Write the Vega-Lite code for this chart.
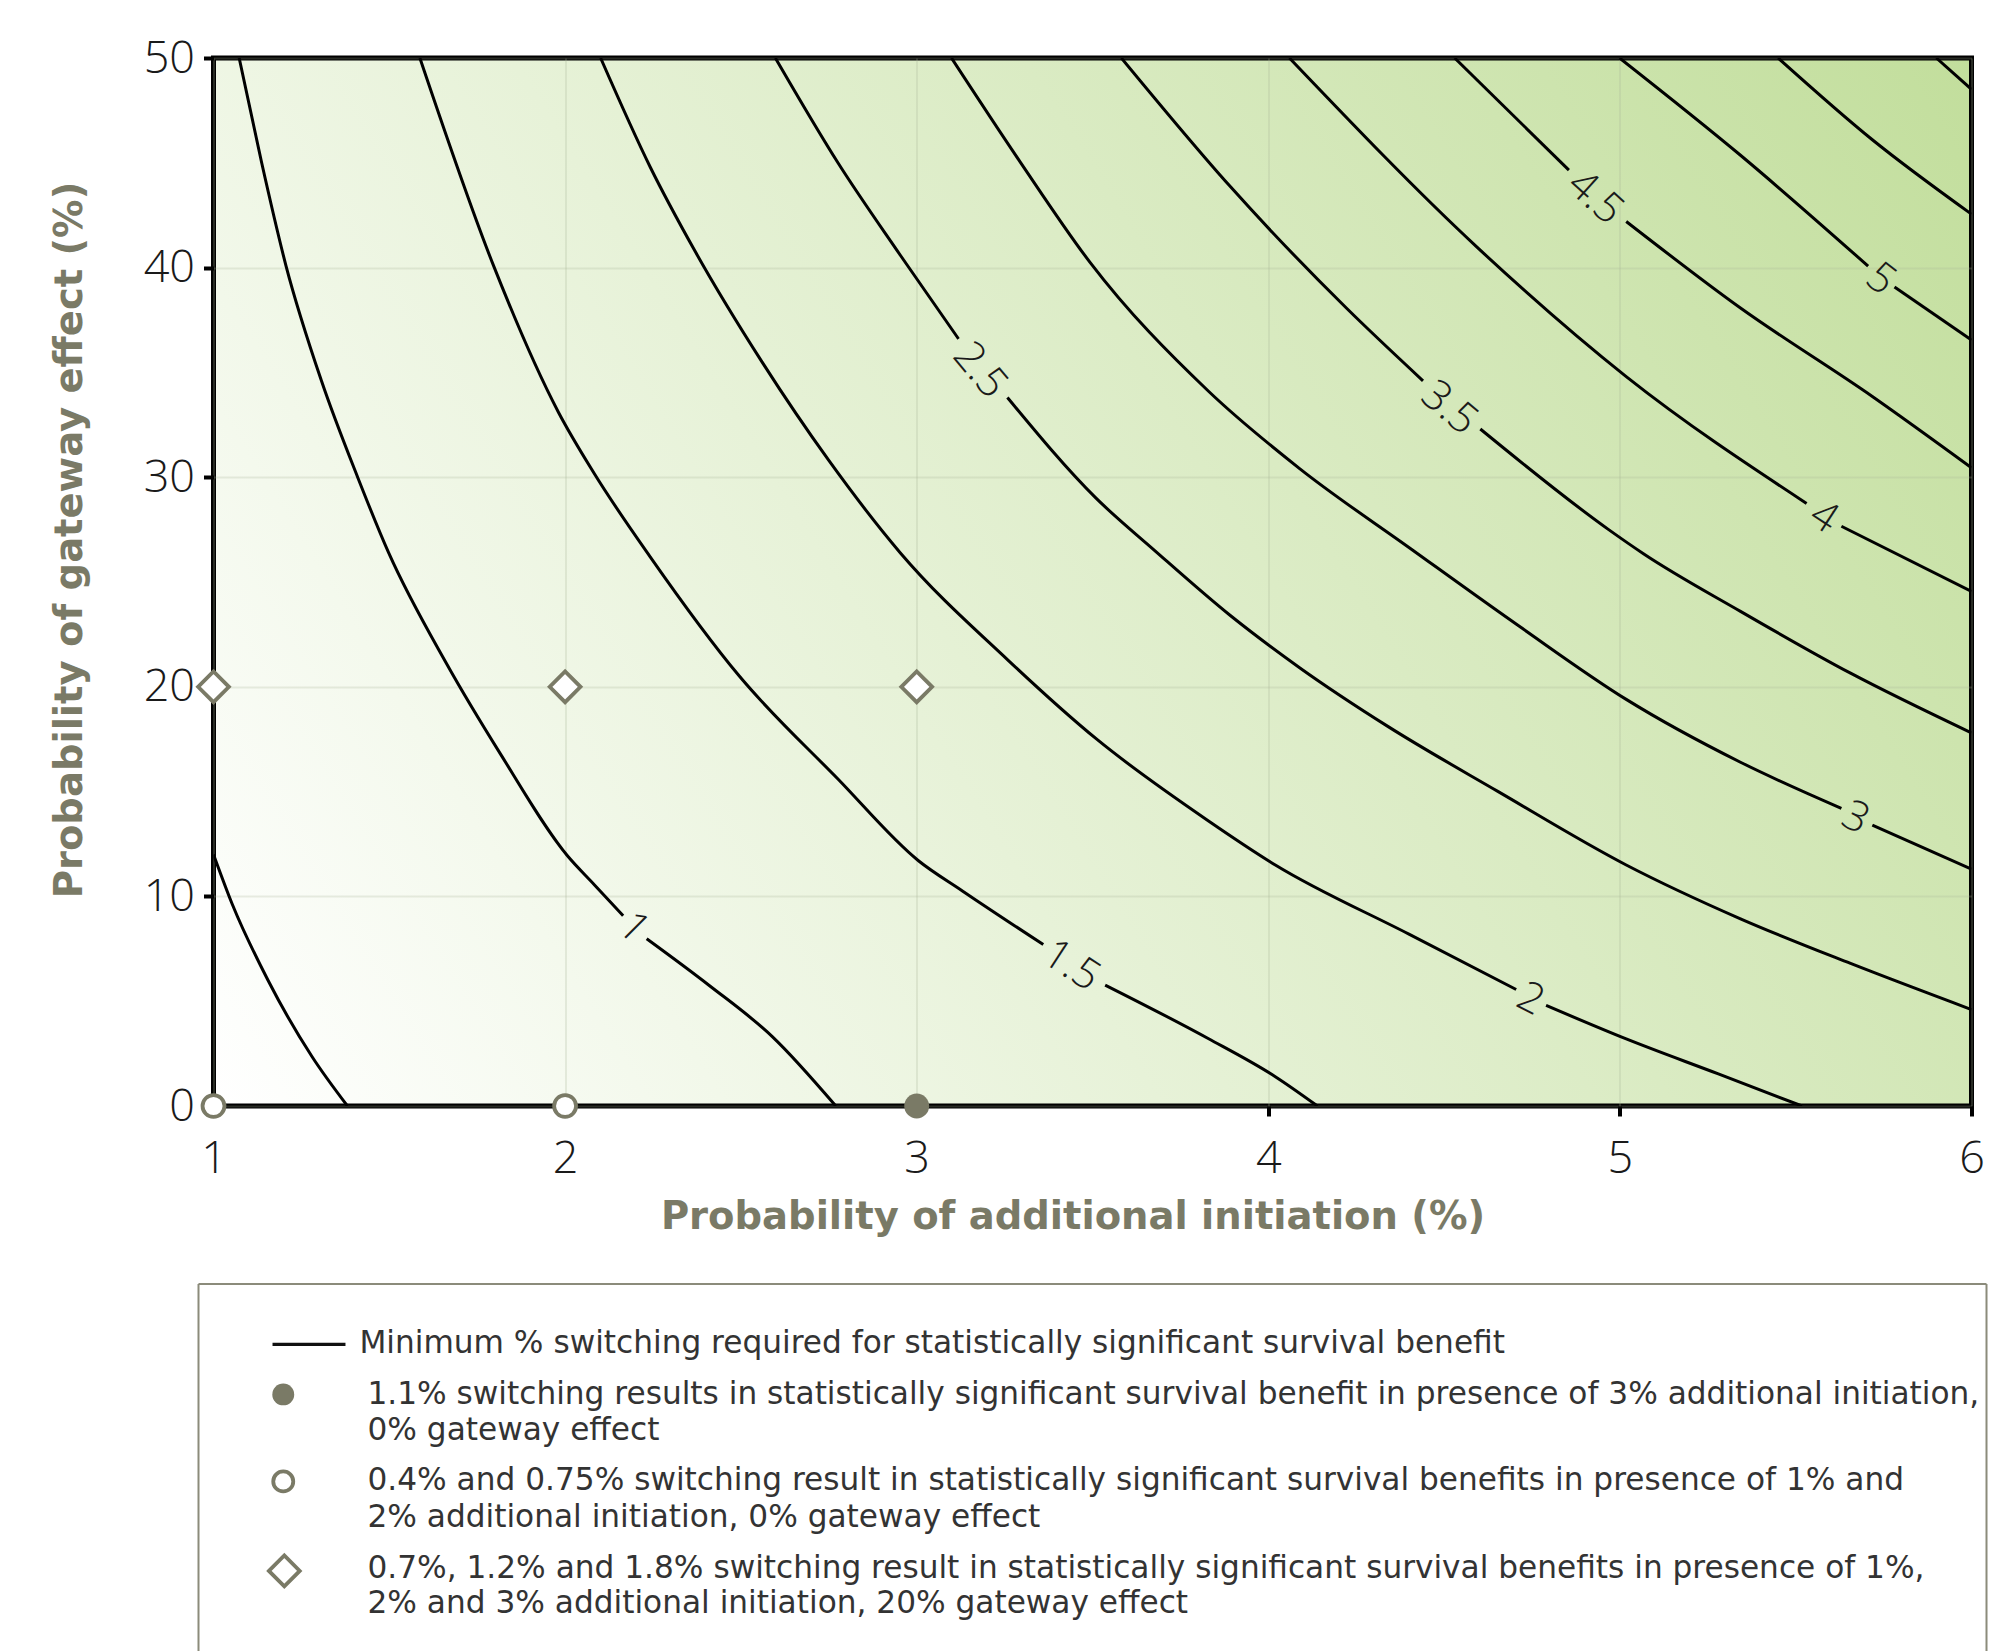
{
  "$schema": "https://vega.github.io/schema/vega-lite/v6.json",
  "padding": {"left": 47.5, "top": 33, "right": 0, "bottom": 0},
  "background": "#ffffff",
  "config": {"font": "DejaVu Sans"},
  "spacing": 178,
  "bounds": "flush",
  "center": true,
  "datasets": {
    "contours": [
      {"seg": "0.5", "x": 1.0, "y": 12.0}, {"seg": "0.5", "x": 1.054, "y": 9.6}, {"seg": "0.5", "x": 1.155, "y": 6.0}, {"seg": "0.5", "x": 1.28, "y": 2.36}, {"seg": "0.5", "x": 1.381, "y": 0},
      {"seg": "1a", "x": 1.073, "y": 50}, {"seg": "1a", "x": 1.137, "y": 45.0}, {"seg": "1a", "x": 1.206, "y": 40.1}, {"seg": "1a", "x": 1.307, "y": 34.6}, {"seg": "1a", "x": 1.41, "y": 30.0}, {"seg": "1a", "x": 1.498, "y": 26.4}, {"seg": "1a", "x": 1.663, "y": 21.1}, {"seg": "1a", "x": 1.816, "y": 16.8}, {"seg": "1a", "x": 2.006, "y": 11.95}, {"seg": "1a", "x": 2.083, "y": 10.56}, {"seg": "1a", "x": 2.165, "y": 9.08},
      {"seg": "1b", "x": 2.232, "y": 7.98}, {"seg": "1b", "x": 2.41, "y": 5.75}, {"seg": "1b", "x": 2.59, "y": 3.3}, {"seg": "1b", "x": 2.77, "y": 0},
      {"seg": "1.5a", "x": 1.587, "y": 50}, {"seg": "1.5a", "x": 1.797, "y": 40.07}, {"seg": "1.5a", "x": 1.981, "y": 33.1}, {"seg": "1.5a", "x": 2.082, "y": 30.2}, {"seg": "1.5a", "x": 2.242, "y": 26.2}, {"seg": "1.5a", "x": 2.496, "y": 20.5}, {"seg": "1.5a", "x": 2.776, "y": 15.6}, {"seg": "1.5a", "x": 3.005, "y": 11.7}, {"seg": "1.5a", "x": 3.13, "y": 10.26}, {"seg": "1.5a", "x": 3.36, "y": 7.7},
      {"seg": "1.5b", "x": 3.536, "y": 5.77}, {"seg": "1.5b", "x": 3.829, "y": 3.22}, {"seg": "1.5b", "x": 4.02, "y": 1.4}, {"seg": "1.5b", "x": 4.14, "y": 0},
      {"seg": "2a", "x": 2.101, "y": 50}, {"seg": "2a", "x": 2.242, "y": 44.8}, {"seg": "2a", "x": 2.369, "y": 40.8}, {"seg": "2a", "x": 2.56, "y": 35.5}, {"seg": "2a", "x": 2.75, "y": 30.8}, {"seg": "2a", "x": 2.953, "y": 26.4}, {"seg": "2a", "x": 3.258, "y": 21.3}, {"seg": "2a", "x": 3.512, "y": 17.5}, {"seg": "2a", "x": 3.83, "y": 13.6}, {"seg": "2a", "x": 4.02, "y": 11.5}, {"seg": "2a", "x": 4.4, "y": 8.2}, {"seg": "2a", "x": 4.705, "y": 5.56},
      {"seg": "2b", "x": 4.79, "y": 4.8}, {"seg": "2b", "x": 5.018, "y": 3.2}, {"seg": "2b", "x": 5.28, "y": 1.53}, {"seg": "2b", "x": 5.518, "y": 0},
      {"seg": "2.5a", "x": 2.598, "y": 50}, {"seg": "2.5a", "x": 2.776, "y": 45.0}, {"seg": "2.5a", "x": 2.953, "y": 40.6}, {"seg": "2.5a", "x": 3.119, "y": 36.6},
      {"seg": "2.5b", "x": 3.258, "y": 33.8}, {"seg": "2.5b", "x": 3.51, "y": 29.0}, {"seg": "2.5b", "x": 3.677, "y": 26.5}, {"seg": "2.5b", "x": 3.892, "y": 23.4}, {"seg": "2.5b", "x": 4.09, "y": 20.9}, {"seg": "2.5b", "x": 4.341, "y": 18.1}, {"seg": "2.5b", "x": 4.654, "y": 15.0}, {"seg": "2.5b", "x": 5.018, "y": 11.5}, {"seg": "2.5b", "x": 5.343, "y": 8.93}, {"seg": "2.5b", "x": 5.656, "y": 6.8}, {"seg": "2.5b", "x": 6.0, "y": 4.6},
      {"seg": "3a", "x": 3.099, "y": 50}, {"seg": "3a", "x": 3.296, "y": 45.0}, {"seg": "3a", "x": 3.493, "y": 40.25}, {"seg": "3a", "x": 3.83, "y": 34.1}, {"seg": "3a", "x": 4.09, "y": 30.4}, {"seg": "3a", "x": 4.404, "y": 26.6}, {"seg": "3a", "x": 4.717, "y": 22.85}, {"seg": "3a", "x": 5.018, "y": 19.4}, {"seg": "3a", "x": 5.343, "y": 16.4}, {"seg": "3a", "x": 5.63, "y": 14.2},
      {"seg": "3b", "x": 5.718, "y": 13.4}, {"seg": "3b", "x": 6.0, "y": 11.3},
      {"seg": "3.5a", "x": 3.582, "y": 50}, {"seg": "3.5a", "x": 3.89, "y": 43.9}, {"seg": "3.5a", "x": 4.222, "y": 38.07}, {"seg": "3.5a", "x": 4.44, "y": 34.6},
      {"seg": "3.5b", "x": 4.603, "y": 32.3}, {"seg": "3.5b", "x": 4.968, "y": 27.5}, {"seg": "3.5b", "x": 5.067, "y": 26.35}, {"seg": "3.5b", "x": 5.343, "y": 23.6}, {"seg": "3.5b", "x": 5.656, "y": 20.65}, {"seg": "3.5b", "x": 6.0, "y": 17.8},
      {"seg": "4a", "x": 4.06, "y": 50}, {"seg": "4a", "x": 4.592, "y": 41.0}, {"seg": "4a", "x": 5.018, "y": 34.8}, {"seg": "4a", "x": 5.531, "y": 28.75},
      {"seg": "4b", "x": 5.63, "y": 27.66}, {"seg": "4b", "x": 6.0, "y": 24.55},
      {"seg": "4.5a", "x": 4.53, "y": 50}, {"seg": "4.5a", "x": 4.855, "y": 44.65},
      {"seg": "4.5b", "x": 5.018, "y": 42.2}, {"seg": "4.5b", "x": 5.343, "y": 38.07}, {"seg": "4.5b", "x": 5.718, "y": 33.85}, {"seg": "4.5b", "x": 6.0, "y": 30.45},
      {"seg": "5a", "x": 4.999, "y": 50}, {"seg": "5a", "x": 5.343, "y": 45.36}, {"seg": "5a", "x": 5.706, "y": 40.07},
      {"seg": "5b", "x": 5.781, "y": 39.07}, {"seg": "5b", "x": 6.0, "y": 36.55},
      {"seg": "5.5", "x": 5.45, "y": 50}, {"seg": "5.5", "x": 5.718, "y": 46.1}, {"seg": "5.5", "x": 6.0, "y": 42.55},
      {"seg": "6", "x": 5.9, "y": 50}, {"seg": "6", "x": 6.0, "y": 48.5}
    ],
    "markers": [
      {"kind": "filled", "x": 3, "y": 0},
      {"kind": "open", "x": 1, "y": 0},
      {"kind": "open", "x": 2, "y": 0},
      {"kind": "diamond", "x": 1, "y": 20},
      {"kind": "diamond", "x": 2, "y": 20},
      {"kind": "diamond", "x": 3, "y": 20}
    ],
    "legendBox": [
      {"x": 0, "x2": 0, "y": 0, "y2": 10},
      {"x": 0, "x2": 100, "y": 0, "y2": 0},
      {"x": 100, "x2": 100, "y": 0, "y2": 10}
    ],
    "legendSymbols": [
      {"kind": "line", "x": 4.14, "x2": 8.22, "y": 1.645},
      {"kind": "filled", "x": 4.74, "y": 3.008},
      {"kind": "open", "x": 4.74, "y": 5.379},
      {"kind": "diamond", "x": 4.8, "y": 7.818}
    ],
    "legendText": [
      {"x": 9.0, "y": 1.645, "text": "Minimum % switching required for statistically significant survival benefit"},
      {"x": 9.45, "y": 3.035, "text": "1.1% switching results in statistically significant survival benefit in presence of 3% additional initiation,"},
      {"x": 9.45, "y": 3.997, "text": "0% gateway effect"},
      {"x": 9.45, "y": 5.379, "text": "0.4% and 0.75% switching result in statistically significant survival benefits in presence of 1% and"},
      {"x": 9.45, "y": 6.369, "text": "2% additional initiation, 0% gateway effect"},
      {"x": 9.45, "y": 7.778, "text": "0.7%, 1.2% and 1.8% switching result in statistically significant survival benefits in presence of 1%,"},
      {"x": 9.45, "y": 8.713, "text": "2% and 3% additional initiation, 20% gateway effect"}
    ]
  },
  "vconcat": [
    {
      "width": 1758,
      "height": 1048,
      "view": {
        "stroke": "#000000",
        "strokeWidth": 5,
        "fill": {"gradient": "linear", "x1": 0, "y1": 1, "x2": 1.205, "y2": 0.554,
          "stops": [{"offset": 0, "color": "#ffffff"}, {"offset": 1, "color": "#c2de9c"}]}
      },
      "layer": [
        {
          "data": {"name": "contours"},
          "mark": {"type": "line", "color": "#000000", "strokeWidth": 3, "interpolate": "monotone", "clip": true},
          "encoding": {
            "x": {"field": "x", "type": "quantitative",
              "scale": {"domain": [1, 6], "nice": false, "zero": false},
              "axis": {"values": [1, 2, 3, 4, 5, 6], "format": "d", "title": "Probability of additional initiation (%)",
                "domain": false, "tickSize": 10, "tickWidth": 4, "tickColor": "#000000",
                "labelFont": "Open Sans", "labelFontSize": 45, "labelFontWeight": 300, "labelColor": "#1a1a1a", "labelPadding": 20, "labelFlush": false,
                "grid": true, "gridColor": "#a8b396", "gridOpacity": 0.24, "gridWidth": 2,
                "titleFontSize": 38.5, "titleFontWeight": "bold", "titleColor": "#7a7a66",
                "titleX": 859, "titleY": 122, "titleBaseline": "alphabetic", "titleAlign": "center"}},
            "y": {"field": "y", "type": "quantitative",
              "scale": {"domain": [0, 50], "nice": false, "zero": false},
              "axis": {"values": [0, 10, 20, 30, 40, 50], "format": "d", "title": "Probability of gateway effect (%)",
                "domain": false, "tickSize": 10, "tickWidth": 4, "tickColor": "#000000",
                "labelFont": "Open Sans", "labelFontSize": 45, "labelFontWeight": 300, "labelColor": "#1a1a1a", "labelPadding": 9, "labelFlush": false,
                "grid": true, "gridColor": "#a8b396", "gridOpacity": 0.24, "gridWidth": 2,
                "titleFontSize": 38.5, "titleFontWeight": "bold", "titleColor": "#7a7a66",
                "titleX": -132, "titleY": 481.5, "titleBaseline": "alphabetic", "titleAlign": "center", "titleAngle": -90}},
            "detail": {"field": "seg"}
          }
        },
        {"data": {"values": [{"x": 2.195, "y": 8.5, "label": "1"}]},
          "mark": {"type": "text", "angle": 45, "font": "Open Sans", "fontSize": 42, "fontWeight": 300, "color": "#1a1a1a", "align": "center", "baseline": "middle"},
          "encoding": {"x": {"field": "x", "type": "quantitative"}, "y": {"field": "y", "type": "quantitative"}, "text": {"field": "label"}}},
        {"data": {"values": [{"x": 3.44, "y": 6.7, "label": "1.5"}]},
          "mark": {"type": "text", "angle": 33, "font": "Open Sans", "fontSize": 42, "fontWeight": 300, "color": "#1a1a1a", "align": "center", "baseline": "middle"},
          "encoding": {"x": {"field": "x", "type": "quantitative"}, "y": {"field": "y", "type": "quantitative"}, "text": {"field": "label"}}},
        {"data": {"values": [{"x": 4.746, "y": 5.1, "label": "2"}]},
          "mark": {"type": "text", "angle": 27, "font": "Open Sans", "fontSize": 42, "fontWeight": 300, "color": "#1a1a1a", "align": "center", "baseline": "middle"},
          "encoding": {"x": {"field": "x", "type": "quantitative"}, "y": {"field": "y", "type": "quantitative"}, "text": {"field": "label"}}},
        {"data": {"values": [{"x": 3.18, "y": 35.1, "label": "2.5"}]},
          "mark": {"type": "text", "angle": 50, "font": "Open Sans", "fontSize": 42, "fontWeight": 300, "color": "#1a1a1a", "align": "center", "baseline": "middle"},
          "encoding": {"x": {"field": "x", "type": "quantitative"}, "y": {"field": "y", "type": "quantitative"}, "text": {"field": "label"}}},
        {"data": {"values": [{"x": 5.67, "y": 13.75, "label": "3"}]},
          "mark": {"type": "text", "angle": 27, "font": "Open Sans", "fontSize": 42, "fontWeight": 300, "color": "#1a1a1a", "align": "center", "baseline": "middle"},
          "encoding": {"x": {"field": "x", "type": "quantitative"}, "y": {"field": "y", "type": "quantitative"}, "text": {"field": "label"}}},
        {"data": {"values": [{"x": 4.515, "y": 33.3, "label": "3.5"}]},
          "mark": {"type": "text", "angle": 40, "font": "Open Sans", "fontSize": 42, "fontWeight": 300, "color": "#1a1a1a", "align": "center", "baseline": "middle"},
          "encoding": {"x": {"field": "x", "type": "quantitative"}, "y": {"field": "y", "type": "quantitative"}, "text": {"field": "label"}}},
        {"data": {"values": [{"x": 5.58, "y": 28.1, "label": "4"}]},
          "mark": {"type": "text", "angle": 33, "font": "Open Sans", "fontSize": 42, "fontWeight": 300, "color": "#1a1a1a", "align": "center", "baseline": "middle"},
          "encoding": {"x": {"field": "x", "type": "quantitative"}, "y": {"field": "y", "type": "quantitative"}, "text": {"field": "label"}}},
        {"data": {"values": [{"x": 4.93, "y": 43.35, "label": "4.5"}]},
          "mark": {"type": "text", "angle": 42, "font": "Open Sans", "fontSize": 42, "fontWeight": 300, "color": "#1a1a1a", "align": "center", "baseline": "middle"},
          "encoding": {"x": {"field": "x", "type": "quantitative"}, "y": {"field": "y", "type": "quantitative"}, "text": {"field": "label"}}},
        {"data": {"values": [{"x": 5.742, "y": 39.45, "label": "5"}]},
          "mark": {"type": "text", "angle": 38, "font": "Open Sans", "fontSize": 42, "fontWeight": 300, "color": "#1a1a1a", "align": "center", "baseline": "middle"},
          "encoding": {"x": {"field": "x", "type": "quantitative"}, "y": {"field": "y", "type": "quantitative"}, "text": {"field": "label"}}},
        {"data": {"name": "markers"},
          "transform": [{"filter": "datum.kind === 'diamond'"}],
          "mark": {"type": "point", "shape": "diamond", "size": 950, "filled": true, "fill": "#ffffff", "stroke": "#7a7a66", "strokeWidth": 3.8, "opacity": 1},
          "encoding": {"x": {"field": "x", "type": "quantitative"}, "y": {"field": "y", "type": "quantitative"}}},
        {"data": {"name": "markers"},
          "transform": [{"filter": "datum.kind === 'open'"}],
          "mark": {"type": "point", "shape": "circle", "size": 480, "filled": true, "fill": "#ffffff", "stroke": "#7a7a66", "strokeWidth": 3.8, "opacity": 1},
          "encoding": {"x": {"field": "x", "type": "quantitative"}, "y": {"field": "y", "type": "quantitative"}}},
        {"data": {"name": "markers"},
          "transform": [{"filter": "datum.kind === 'filled'"}],
          "mark": {"type": "point", "shape": "circle", "size": 620, "filled": true, "fill": "#7a7a66", "strokeWidth": 0, "opacity": 1},
          "encoding": {"x": {"field": "x", "type": "quantitative"}, "y": {"field": "y", "type": "quantitative"}}}
      ]
    },
    {
      "width": 1788,
      "height": 367,
      "view": {"stroke": null},
      "layer": [
        {"data": {"name": "legendBox"},
          "mark": {"type": "rule", "color": "#8b8b7b", "strokeWidth": 2},
          "encoding": {
            "x": {"field": "x", "type": "quantitative", "scale": {"domain": [0, 100], "nice": false, "zero": false}, "axis": null},
            "x2": {"field": "x2"},
            "y": {"field": "y", "type": "quantitative", "scale": {"domain": [0, 10], "nice": false, "zero": false, "reverse": true}, "axis": null},
            "y2": {"field": "y2"}}},
        {"data": {"name": "legendSymbols"},
          "transform": [{"filter": "datum.kind === 'line'"}],
          "mark": {"type": "rule", "color": "#111111", "strokeWidth": 3.2},
          "encoding": {"x": {"field": "x", "type": "quantitative"}, "x2": {"field": "x2"}, "y": {"field": "y", "type": "quantitative"}}},
        {"data": {"name": "legendSymbols"},
          "transform": [{"filter": "datum.kind === 'filled'"}],
          "mark": {"type": "point", "shape": "circle", "size": 480, "filled": true, "fill": "#7a7a66", "strokeWidth": 0, "opacity": 1},
          "encoding": {"x": {"field": "x", "type": "quantitative"}, "y": {"field": "y", "type": "quantitative"}}},
        {"data": {"name": "legendSymbols"},
          "transform": [{"filter": "datum.kind === 'open'"}],
          "mark": {"type": "point", "shape": "circle", "size": 400, "filled": true, "fill": "#ffffff", "stroke": "#7a7a66", "strokeWidth": 3.8, "opacity": 1},
          "encoding": {"x": {"field": "x", "type": "quantitative"}, "y": {"field": "y", "type": "quantitative"}}},
        {"data": {"name": "legendSymbols"},
          "transform": [{"filter": "datum.kind === 'diamond'"}],
          "mark": {"type": "point", "shape": "diamond", "size": 950, "filled": true, "fill": "#ffffff", "stroke": "#7a7a66", "strokeWidth": 3.8, "opacity": 1},
          "encoding": {"x": {"field": "x", "type": "quantitative"}, "y": {"field": "y", "type": "quantitative"}}},
        {"data": {"name": "legendText"},
          "mark": {"type": "text", "align": "left", "baseline": "middle", "fontSize": 31.2, "color": "#333333"},
          "encoding": {"x": {"field": "x", "type": "quantitative"}, "y": {"field": "y", "type": "quantitative"}, "text": {"field": "text"}}}
      ]
    }
  ]
}
